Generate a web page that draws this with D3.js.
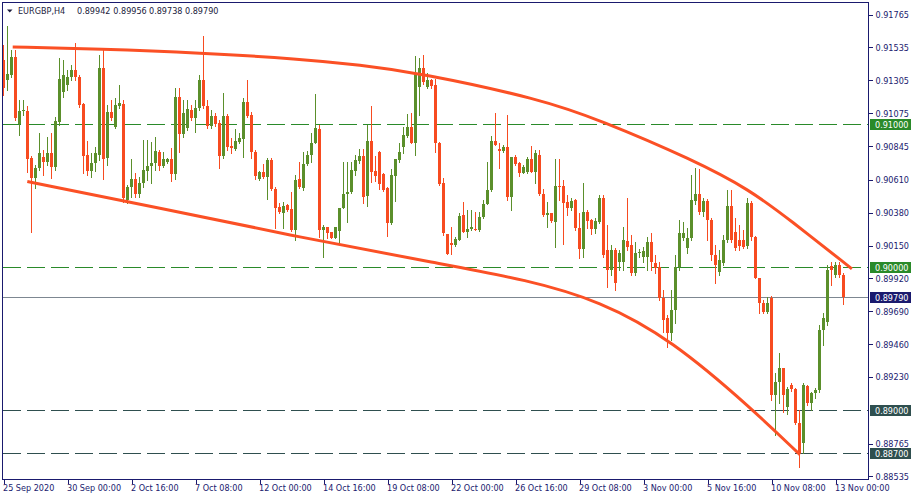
<!DOCTYPE html>
<html><head><meta charset="utf-8">
<script src="https://cdn.jsdelivr.net/npm/d3@7"></script>
<style>
body{margin:0;background:#fff;}
svg{display:block;}
text{font-family:"DejaVu Sans Condensed","DejaVu Sans",sans-serif;font-size:9px;}
</style>
</head><body>
<svg id="chart" width="915" height="497"></svg>
<script>
// ---- data ----
const symbolTitle = "EURGBP,H4";
const opens = [0.91448,0.91308,0.91343,0.91469,0.91000,0.91091,0.91091,0.90762,0.90623,0.90693,0.90769,0.90735,0.90797,0.90700,0.91014,0.91224,0.91273,0.91329,0.91378,0.91329,0.91140,0.90783,0.90672,0.90728,0.90783,0.91392,0.90762,0.91084,0.90979,0.91126,0.91140,0.90469,0.90560,0.90616,0.90511,0.90588,0.90672,0.90707,0.90728,0.90804,0.90707,0.90735,0.90755,0.90651,0.91189,0.90930,0.90972,0.91098,0.91042,0.91112,0.91308,0.91126,0.90986,0.91056,0.91007,0.90776,0.91056,0.90846,0.90825,0.90874,0.90895,0.91154,0.91063,0.90804,0.90616,0.90665,0.90630,0.90749,0.90546,0.90420,0.90378,0.90434,0.90406,0.90259,0.90616,0.90553,0.90721,0.90783,0.90867,0.90965,0.90259,0.90280,0.90245,0.90203,0.90252,0.90413,0.90511,0.90525,0.90672,0.90742,0.90776,0.90497,0.90881,0.90672,0.90804,0.90651,0.90553,0.90308,0.90637,0.90749,0.90839,0.90916,0.90979,0.90867,0.91259,0.91392,0.91259,0.91308,0.91273,0.90867,0.90588,0.90231,0.90168,0.90154,0.90189,0.90364,0.90245,0.90266,0.90266,0.90259,0.90350,0.90441,0.90539,0.90881,0.90825,0.90811,0.90839,0.90490,0.90769,0.90728,0.90658,0.90665,0.90755,0.90665,0.90783,0.90511,0.90364,0.90378,0.90315,0.90567,0.90567,0.90455,0.90413,0.90469,0.90273,0.90126,0.90385,0.90329,0.90266,0.90315,0.90483,0.90120,0.89980,0.90120,0.90036,0.90036,0.90182,0.90154,0.89959,0.90099,0.90071,0.90071,0.90175,0.90029,0.90001,0.89784,0.89644,0.89539,0.89700,0.90001,0.90203,0.90133,0.90203,0.90462,0.90511,0.90385,0.90462,0.90329,0.90085,0.89966,0.90029,0.90189,0.90427,0.90245,0.90189,0.90189,0.90147,0.90448,0.90210,0.89924,0.89749,0.89686,0.89784,0.89106,0.89197,0.89295,0.89022,0.89176,0.89148,0.88910,0.88770,0.89169,0.89050,0.89120,0.89141,0.89560,0.89616,0.90008,0.89945,0.90015,0.89942];
const highs = [0.91552,0.91685,0.91518,0.91518,0.91168,0.91168,0.91126,0.90776,0.90714,0.90937,0.90818,0.90909,0.90937,0.91049,0.91462,0.91448,0.91378,0.91413,0.91566,0.91343,0.91147,0.90881,0.90797,0.90839,0.91483,0.91518,0.91133,0.91168,0.91182,0.91273,0.91168,0.90574,0.90755,0.90658,0.90630,0.90888,0.90888,0.90874,0.90909,0.90818,0.90804,0.90762,0.90832,0.91252,0.91252,0.91168,0.91168,0.91133,0.91168,0.91343,0.91615,0.91168,0.91098,0.91077,0.91028,0.91217,0.91070,0.90902,0.90965,0.90937,0.91182,0.91308,0.91084,0.90818,0.90672,0.90721,0.90762,0.90762,0.90560,0.90448,0.90455,0.90441,0.90525,0.90644,0.90735,0.90804,0.90811,0.90937,0.91210,0.90993,0.90294,0.90280,0.90245,0.90280,0.90413,0.90735,0.90735,0.90735,0.90783,0.90825,0.90825,0.90993,0.91126,0.90776,0.90811,0.90658,0.90560,0.90686,0.90755,0.90867,0.90979,0.91070,0.91077,0.91476,0.91462,0.91483,0.91357,0.91315,0.91315,0.90874,0.90623,0.90231,0.90280,0.90210,0.90378,0.90455,0.90399,0.90399,0.90385,0.90385,0.90469,0.90735,0.90916,0.91077,0.90867,0.90853,0.91063,0.90769,0.90783,0.90735,0.90714,0.90769,0.90846,0.90818,0.90818,0.90546,0.90455,0.90378,0.90755,0.90755,0.90609,0.90504,0.90483,0.90476,0.90378,0.90588,0.90399,0.90336,0.90343,0.90504,0.90504,0.90294,0.90154,0.90133,0.90120,0.90280,0.90483,0.90224,0.90175,0.90126,0.90140,0.90210,0.90238,0.90085,0.90036,0.89840,0.89665,0.89840,0.90085,0.90329,0.90315,0.90273,0.90644,0.90693,0.90686,0.90483,0.90476,0.90343,0.90154,0.90120,0.90224,0.90539,0.90539,0.90343,0.90294,0.90259,0.90483,0.90462,0.90217,0.89924,0.89770,0.89791,0.89798,0.89260,0.89399,0.89295,0.89162,0.89190,0.89155,0.89001,0.89190,0.89176,0.89127,0.89155,0.89595,0.89679,0.90015,0.90036,0.90036,0.90036,0.89956];
const lows = [0.91203,0.91238,0.91329,0.91028,0.90923,0.91063,0.90665,0.90245,0.90553,0.90679,0.90644,0.90714,0.90623,0.90679,0.90993,0.91189,0.91238,0.91308,0.91308,0.91119,0.90658,0.90644,0.90630,0.90672,0.90749,0.90616,0.90714,0.91028,0.90972,0.91112,0.90455,0.90448,0.90490,0.90490,0.90490,0.90560,0.90609,0.90588,0.90679,0.90679,0.90700,0.90728,0.90602,0.90616,0.90804,0.90909,0.90958,0.91028,0.90944,0.91098,0.91112,0.90972,0.90972,0.90986,0.90693,0.90762,0.90818,0.90797,0.90818,0.90867,0.90769,0.91049,0.90762,0.90616,0.90609,0.90623,0.90476,0.90539,0.90273,0.90378,0.90273,0.90392,0.90252,0.90189,0.90553,0.90539,0.90714,0.90735,0.90867,0.90210,0.90071,0.90203,0.90203,0.90203,0.90168,0.90413,0.90315,0.90518,0.90644,0.90728,0.90448,0.90427,0.90595,0.90602,0.90546,0.90532,0.90217,0.90301,0.90462,0.90735,0.90797,0.90909,0.90867,0.90783,0.91063,0.91280,0.91252,0.91252,0.90804,0.90574,0.90224,0.90092,0.90092,0.90147,0.90189,0.90245,0.90210,0.90259,0.90259,0.90252,0.90343,0.90441,0.90532,0.90853,0.90693,0.90804,0.90469,0.90399,0.90714,0.90637,0.90658,0.90658,0.90665,0.90588,0.90504,0.90357,0.90280,0.90315,0.90140,0.90469,0.90161,0.90364,0.90399,0.90259,0.90064,0.90071,0.90273,0.90231,0.90238,0.90308,0.90071,0.89861,0.89945,0.89840,0.89980,0.89980,0.90120,0.89945,0.89945,0.90071,0.90036,0.89980,0.89980,0.89959,0.89770,0.89546,0.89441,0.89490,0.89609,0.89980,0.90189,0.90099,0.90189,0.90441,0.90371,0.90357,0.90189,0.90050,0.89889,0.89945,0.90015,0.90175,0.90175,0.90120,0.90120,0.90133,0.90133,0.90189,0.89924,0.89679,0.89679,0.89679,0.89071,0.88826,0.89050,0.88987,0.88973,0.89134,0.88903,0.88602,0.88700,0.89036,0.89001,0.89085,0.89127,0.89455,0.89595,0.89875,0.89931,0.89931,0.89738];
const closes = [0.91252,0.91350,0.91469,0.91042,0.91091,0.91098,0.90755,0.90623,0.90693,0.90797,0.90735,0.90797,0.90700,0.91021,0.91315,0.91343,0.91329,0.91378,0.91329,0.91133,0.90776,0.90672,0.90728,0.90797,0.91392,0.90755,0.91084,0.91042,0.91133,0.91147,0.90483,0.90560,0.90616,0.90511,0.90588,0.90679,0.90707,0.90728,0.90811,0.90707,0.90755,0.90755,0.90651,0.91189,0.90930,0.91077,0.91105,0.91042,0.91112,0.91308,0.91126,0.90986,0.91056,0.91000,0.90776,0.91056,0.90839,0.90832,0.90881,0.90902,0.91154,0.91056,0.90804,0.90637,0.90665,0.90630,0.90749,0.90546,0.90413,0.90385,0.90427,0.90399,0.90259,0.90609,0.90560,0.90721,0.90783,0.90867,0.90972,0.90259,0.90280,0.90238,0.90203,0.90280,0.90413,0.90511,0.90525,0.90679,0.90749,0.90776,0.90490,0.90881,0.90665,0.90637,0.90581,0.90539,0.90308,0.90644,0.90755,0.90804,0.90923,0.90979,0.90867,0.91350,0.91392,0.91294,0.91308,0.91266,0.90867,0.90581,0.90238,0.90092,0.90154,0.90196,0.90357,0.90245,0.90266,0.90280,0.90263,0.90350,0.90441,0.90539,0.90881,0.90853,0.90811,0.90839,0.90490,0.90769,0.90721,0.90658,0.90700,0.90755,0.90665,0.90797,0.90511,0.90364,0.90378,0.90322,0.90567,0.90565,0.90448,0.90413,0.90462,0.90273,0.90126,0.90385,0.90322,0.90266,0.90322,0.90483,0.90085,0.89980,0.90120,0.89889,0.90099,0.90189,0.90140,0.89959,0.90099,0.90106,0.90113,0.90175,0.90036,0.89994,0.89784,0.89630,0.89539,0.89700,0.90001,0.90238,0.90238,0.90203,0.90469,0.90511,0.90385,0.90462,0.90329,0.90085,0.90015,0.90050,0.90189,0.90427,0.90189,0.90133,0.90147,0.90140,0.90448,0.90210,0.89924,0.89749,0.89686,0.89749,0.89106,0.89197,0.89295,0.89106,0.89148,0.89148,0.88910,0.88700,0.89176,0.89050,0.89120,0.89141,0.89560,0.89644,0.89980,0.89980,0.90015,0.89945,0.89790];

const priceTicks = [0.91765,0.91535,0.91305,0.91075,0.90845,0.90610,0.90380,0.90150,0.89920,0.89690,0.89460,0.89230,0.88765,0.88535];
const timeTickBars = [0,16,32,48,64,80,96,112,128,144,160,176,192,208];
const timeLabels = ["25 Sep 2020","30 Sep 00:00","2 Oct 16:00","7 Oct 08:00","12 Oct 00:00","14 Oct 16:00","19 Oct 08:00","22 Oct 00:00","26 Oct 16:00","29 Oct 08:00","3 Nov 00:00","5 Nov 16:00","10 Nov 08:00","13 Nov 00:00"];

const greenLevels = [0.91000, 0.90000];
const slateLevels = [0.89000, 0.88700];
const lastPrice = 0.89790;

const upperTrendBars   = [2.3, 24.1, 49.1, 74.1, 89.1, 104.1, 134.1, 149.1, 172.4, 186.6, 196.6, 212.1];
const upperTrendPrices = [0.91538,0.91524,0.91497,0.91455,0.91413,0.91357,0.91175,0.91028,0.90749,0.90539,0.90329,0.89987];
const lowerTrendBars   = [5.95, 39.1, 74.1, 109.1, 130.9, 149.1, 167.1, 187.4, 199.1];
const lowerTrendPrices = [0.90597,0.90413,0.90207,0.90022,0.89910,0.89763,0.89490,0.89001,0.88687];

// ---- styles ----
const C = {
  frame:"#1a1a6e", text:"#1a1a6e", title:"#1b1b3c",
  bull:"#5b8f2b", bear:"#f74b20", trend:"#fb5025",
  green:"#2a8a2a", slate:"#2f4f4f", last:"#7d8791", lastBox:"#1a1a6e"
};

const svg = d3.select("#chart");
const x = d3.scaleLinear().domain([0,216]).range([3.5,867.5]);
const y = d3.scaleLinear().domain([0.88517,0.91853]).range([479,2]);
const snap = v => Math.round(v) + 0.5;

const bars = opens.map((o,i)=>({i,o,h:highs[i],l:lows[i],c:closes[i]}));

// level lines
const gLines = svg.append("g").attr("shape-rendering","crispEdges");
gLines.selectAll("line.gl").data(greenLevels).join("line")
  .attr("x1",3).attr("x2",868).attr("y1",d=>snap(y(d))).attr("y2",d=>snap(y(d)))
  .attr("stroke",C.green).attr("stroke-dasharray","18,6");
gLines.selectAll("line.sl").data(slateLevels).join("line")
  .attr("x1",3).attr("x2",868).attr("y1",d=>snap(y(d))).attr("y2",d=>snap(y(d)))
  .attr("stroke",C.slate).attr("stroke-dasharray","18,6");
gLines.append("line").attr("x1",3).attr("x2",868)
  .attr("y1",snap(y(lastPrice))).attr("y2",snap(y(lastPrice))).attr("stroke",C.last);

// candles
const gC = svg.append("g").attr("shape-rendering","crispEdges");
gC.selectAll("line.w").data(bars).join("line")
  .attr("x1",d=>x(d.i)).attr("x2",d=>x(d.i))
  .attr("y1",d=>Math.round(y(d.h))).attr("y2",d=>Math.round(y(d.l))+1)
  .attr("stroke",d=>d.c>=d.o?C.bull:C.bear).attr("stroke-width",1);
gC.selectAll("rect.b").data(bars).join("rect")
  .attr("x",d=>x(d.i)-1.5).attr("width",3)
  .attr("y",d=>Math.round(y(Math.max(d.o,d.c))))
  .attr("height",d=>Math.max(1,Math.round(y(Math.min(d.o,d.c)))-Math.round(y(Math.max(d.o,d.c)))))
  .attr("fill",d=>d.c>=d.o?C.bull:C.bear);

// trend curves
const line = d3.line().x(d=>x(d[0])).y(d=>y(d[1])).curve(d3.curveBasis);
svg.append("path").attr("d",line(upperTrendBars.map((b,i)=>[b,upperTrendPrices[i]])))
  .attr("fill","none").attr("stroke",C.trend).attr("stroke-width",3);
svg.append("path").attr("d",line(lowerTrendBars.map((b,i)=>[b,lowerTrendPrices[i]])))
  .attr("fill","none").attr("stroke",C.trend).attr("stroke-width",3);

// frame
svg.append("rect").attr("x",2.5).attr("y",2.5).attr("width",866).attr("height",477)
  .attr("fill","none").attr("stroke",C.frame).attr("shape-rendering","crispEdges");

// right axis
const ay = d3.axisRight(y).tickValues(priceTicks).tickSize(4).tickPadding(3).tickFormat(d3.format(".5f"));
const gy = svg.append("g").attr("transform","translate(868.5,0)").call(ay);
gy.select(".domain").remove();
gy.selectAll(".tick line").attr("stroke",C.frame).attr("shape-rendering","crispEdges");
gy.selectAll(".tick text").attr("fill",C.text).style("font-size","9px").style("font-family",null);

// bottom axis
const ax = d3.axisBottom(x).tickValues(timeTickBars).tickSize(4).tickFormat((d,i)=>timeLabels[i]);
const gx = svg.append("g").attr("transform","translate(0,479.5)").call(ax);
gx.select(".domain").remove();
gx.selectAll(".tick line").attr("stroke",C.frame).attr("shape-rendering","crispEdges");
gx.selectAll(".tick text").attr("fill",C.text).attr("text-anchor","start").attr("x",-1).attr("y",5.5)
  .style("font-size","9px").style("font-family",null);

// level labels
function levelLabel(v, fill){
  const yy = Math.round(y(v));
  svg.append("rect").attr("x",870).attr("y",yy-5).attr("width",41).attr("height",11)
    .attr("fill",fill).attr("shape-rendering","crispEdges");
  svg.append("text").attr("x",875).attr("y",yy+0.5).attr("dy","0.35em").attr("fill","#fff")
    .text(d3.format(".5f")(v));
}
greenLevels.forEach(v=>levelLabel(v,C.green));
slateLevels.forEach(v=>levelLabel(v,C.slate));
levelLabel(lastPrice,C.lastBox);

// title
svg.append("path").attr("d","M7,9.5 L12.5,9.5 L9.75,12.5 Z").attr("fill",C.title);
const last = bars[bars.length-1];
const headerParts = [symbolTitle].concat([last.o,last.h,last.l,last.c].map(d3.format(".5f")));
const headerX = [18, 77, 113.3, 149, 185];
svg.selectAll("text.hdr").data(headerParts).join("text").attr("class","hdr")
  .attr("x",(d,i)=>headerX[i]).attr("y",14).attr("fill",C.title)
  .style("font-size","9px").text(d=>d);
</script>
</body></html>
